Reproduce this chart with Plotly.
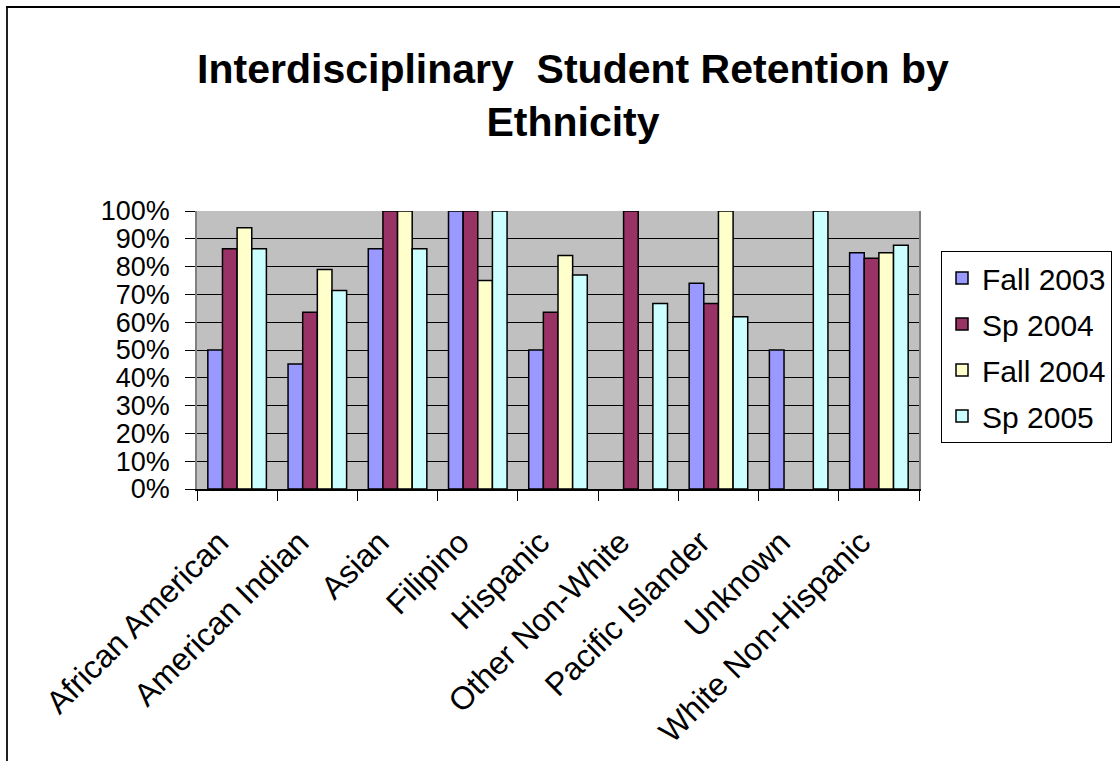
import plotly.graph_objects as go

categories = ["African American", "American Indian", "Asian", "Filipino", "Hispanic",
              "Other Non-White", "Pacific Islander", "Unknown", "White Non-Hispanic"]
series_names = ["Fall 2003", "Sp 2004", "Fall 2004", "Sp 2005"]
fall_2003 = [0.50, 0.45, 0.864, 1.00, 0.50, None, 0.74, 0.50, 0.85]
sp_2004 = [0.864, 0.636, 1.00, 1.00, 0.636, 1.00, 0.667, None, 0.83]
fall_2004 = [0.94, 0.79, 1.00, 0.75, 0.84, None, 1.00, None, 0.85]
sp_2005 = [0.864, 0.714, 0.864, 1.00, 0.77, 0.667, 0.62, 1.00, 0.877]
colors = ["#9999FF", "#993366", "#FFFFCC", "#CCFFFF"]

FONT = "Liberation Sans, Arial, sans-serif"
W, H = 1120, 761
L, R, T, B = 197, 201, 211, 272
pw, ph = W - L - R, H - T - B

fig = go.Figure()
for name, vals, col in zip(series_names, [fall_2003, sp_2004, fall_2004, sp_2005], colors):
    fig.add_trace(go.Bar(
        x=categories, y=vals, name=name, legendgroup=name,
        marker=dict(color=col, line=dict(color="black", width=1.5)),
    ))

def px_x(p):
    return (p - L) / pw

def px_y(p):
    return (H - B - p) / ph

fig.update_layout(
    width=W, height=H,
    margin=dict(l=L, r=R, t=T, b=B, autoexpand=False),
    paper_bgcolor="white",
    plot_bgcolor="#C0C0C0",
    barmode="group",
    bargap=0.27,
    bargroupgap=0,
    font=dict(family=FONT, color="black"),
    title=dict(
        text="<b>Interdisciplinary  Student Retention by<br>Ethnicity</b>",
        font=dict(family=FONT, size=41, color="black"),
        x=573 / W, xanchor="center",
        y=1 - 83 / H, yanchor="top",
    ),
    legend=dict(
        x=px_x(941), xanchor="left",
        y=px_y(251), yanchor="top",
        bgcolor="white",
        bordercolor="black", borderwidth=1,
        font=dict(family=FONT, size=30, color="black"),
        tracegroupgap=4,
    ),
    xaxis=dict(
        type="category",
        tickson="boundaries",
        ticks="outside", ticklen=10, tickcolor="black", tickwidth=1,
        tickangle=-45,
        tickfont=dict(family=FONT, size=32, color="black"),
        ticklabelshift=-18,
        ticklabelstandoff=20,
        showline=True, linecolor="black", linewidth=1.5,
        showgrid=False,
    ),
    yaxis=dict(
        range=[0, 1],
        dtick=0.1,
        tickformat=".0%",
        ticks="outside", ticklen=10, tickcolor="black", tickwidth=1,
        tickfont=dict(family=FONT, size=27, color="black"),
        ticklabelstandoff=10,
        showline=True, linecolor="#808080", linewidth=1.5, mirror=True,
        showgrid=True, gridcolor="black", gridwidth=1,
        zeroline=False,
    ),
    shapes=[
        dict(type="line", xref="paper", yref="paper",
             x0=px_x(7), x1=px_x(7), y0=px_y(7), y1=px_y(H + 5),
             line=dict(color="#202020", width=2)),
        dict(type="line", xref="paper", yref="paper",
             x0=px_x(6), x1=px_x(W + 5), y0=px_y(7), y1=px_y(7),
             line=dict(color="black", width=2)),
    ],
)

fig.write_html("out.html")
